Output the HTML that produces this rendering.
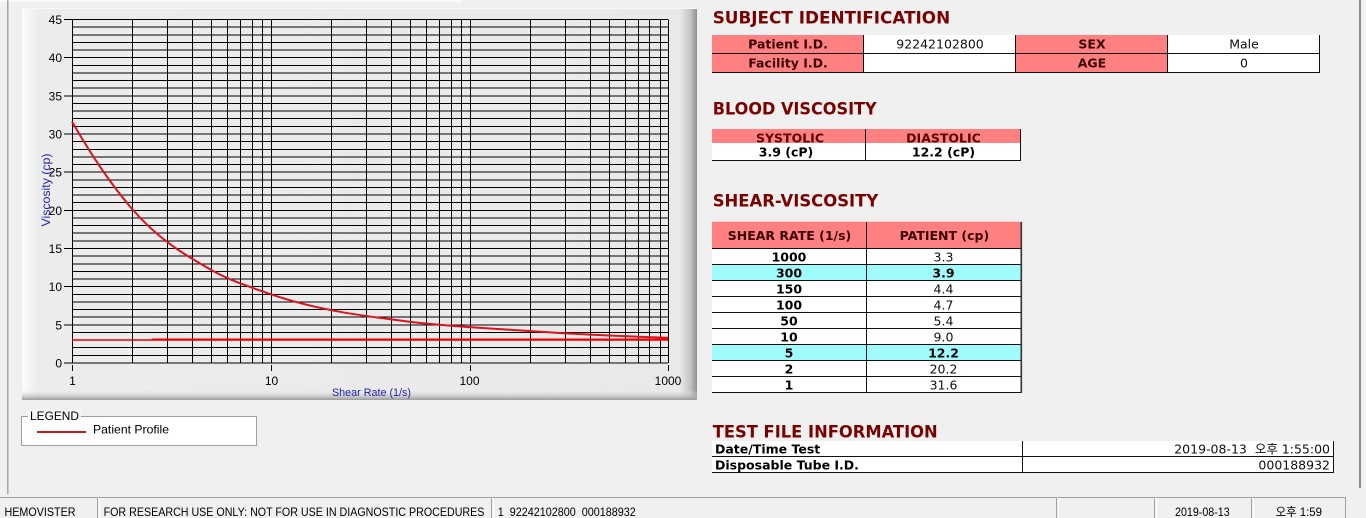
<!DOCTYPE html>
<html><head><meta charset="utf-8"><style>
html,body{margin:0;padding:0;background:#f0f0f0;}
svg{display:block;}
.ax{font-family:"Liberation Sans",sans-serif;font-size:12px;fill:#000;}
.bl{font-family:"Liberation Sans",sans-serif;fill:#1f1fb0;}
.hd{font-family:"DejaVu Sans","Liberation Sans",sans-serif;font-weight:bold;font-size:17px;fill:#7b0000;}
.tb{font-family:"DejaVu Sans","Liberation Sans",sans-serif;font-weight:bold;font-size:12.5px;}
.tn{font-family:"DejaVu Sans","Liberation Sans","Noto Sans CJK KR",sans-serif;font-size:12.5px;fill:#111;}
.st{font-family:"Liberation Sans","Noto Sans CJK KR",sans-serif;font-size:12px;fill:#000;}
</style></head><body>
<svg width="1366" height="518" viewBox="0 0 1366 518" xmlns="http://www.w3.org/2000/svg">
<defs>
<linearGradient id="pg" x1="0" y1="0" x2="1" y2="0">
<stop offset="0" stop-color="#fcfcfc"/>
<stop offset="0.025" stop-color="#ececec"/>
<stop offset="0.975" stop-color="#e9e9e9"/>
<stop offset="0.99" stop-color="#c4c4c4"/>
<stop offset="1" stop-color="#8f8f8f"/>
</linearGradient>
<linearGradient id="pb" x1="0" y1="0" x2="0" y2="1">
<stop offset="0" stop-color="#e9e9e9" stop-opacity="0"/>
<stop offset="1" stop-color="#9a9a9a" stop-opacity="1"/>
</linearGradient>
</defs>
<rect width="1366" height="518" fill="#f0f0f0"/>
<rect x="0" y="0" width="462" height="2" fill="#fbfbfb"/>
<!-- window edges -->
<rect x="7" y="0" width="1.5" height="494" fill="#a5a5a5"/>
<rect x="1359" y="0" width="2" height="488" fill="#8a8a8a"/>

<!-- chart panel -->
<rect x="22" y="8" width="675" height="392" fill="url(#pg)"/>
<rect x="22" y="390" width="675" height="10" fill="url(#pb)"/>
<rect x="22" y="8" width="675" height="1" fill="#f8f8f8"/>

<!-- grid -->
<g stroke="#000" stroke-width="1" shape-rendering="crispEdges" fill="none">
<path d="M72 363H668M72 355.37H668M72 347.73H668M72 340.1H668M72 332.47H668M72 324.84H668M72 317.2H668M72 309.57H668M72 301.94H668M72 294.3H668M72 286.67H668M72 279.04H668M72 271.4H668M72 263.77H668M72 256.14H668M72 248.51H668M72 240.87H668M72 233.24H668M72 225.61H668M72 217.97H668M72 210.34H668M72 202.71H668M72 195.07H668M72 187.44H668M72 179.81H668M72 172.18H668M72 164.54H668M72 156.91H668M72 149.28H668M72 141.64H668M72 134.01H668M72 126.38H668M72 118.74H668M72 111.11H668M72 103.48H668M72 95.85H668M72 88.21H668M72 80.58H668M72 72.95H668M72 65.31H668M72 57.68H668M72 50.05H668M72 42.41H668M72 34.78H668M72 27.15H668M72 19.52H668"/>
<path d="M72.5 19.5V363M132.5 19.5V363M167.5 19.5V363M192.5 19.5V363M211.5 19.5V363M227.5 19.5V363M240.5 19.5V363M252.5 19.5V363M262.5 19.5V363M271.5 19.5V363M331.5 19.5V363M366.5 19.5V363M391.5 19.5V363M410.5 19.5V363M426.5 19.5V363M439.5 19.5V363M451.5 19.5V363M461.5 19.5V363M470.5 19.5V363M530.5 19.5V363M565.5 19.5V363M590.5 19.5V363M609.5 19.5V363M625.5 19.5V363M638.5 19.5V363M649.5 19.5V363M660.5 19.5V363M668.5 19.5V363"/>
<!-- y ticks -->
<path d="M64 19.52H72M64 57.68H72M64 95.85H72M64 134.01H72M64 172.18H72M64 210.34H72M64 248.51H72M64 286.67H72M64 324.84H72M64 363H72"/>
<!-- x ticks -->
<path d="M72.5 365V371M271.5 365V371M470.5 365V371M668.5 365V371"/>
</g>

<!-- y labels -->
<g class="ax" text-anchor="end">
<text x="62" y="24">45</text>
<text x="62" y="62.2">40</text>
<text x="62" y="100.3">35</text>
<text x="62" y="138.5">30</text>
<text x="62" y="176.7">25</text>
<text x="62" y="214.8">20</text>
<text x="62" y="253">15</text>
<text x="62" y="291.2">10</text>
<text x="62" y="329.3">5</text>
<text x="62" y="367.5">0</text>
</g>
<g class="ax" text-anchor="middle">
<text x="72.5" y="385">1</text>
<text x="271.5" y="385">10</text>
<text x="469.5" y="385">100</text>
<text x="668" y="385">1000</text>
</g>
<text class="bl" x="332" y="396" font-size="11" textLength="79" lengthAdjust="spacingAndGlyphs">Shear Rate (1/s)</text>
<text class="bl" font-size="12" transform="translate(50,190) rotate(-90)" text-anchor="middle" textLength="73" lengthAdjust="spacingAndGlyphs">Viscosity (cp)</text>

<!-- series -->
<path d="M72 340H152" stroke="#e80000" stroke-width="1.6" fill="none"/>
<path d="M152 339.6H668" stroke="#f00000" stroke-width="2.2" fill="none"/>
<path d="M72,121.45 C91.93,156.37 111.87,185.43 131.8,208.6 C158.17,239.25 184.53,254.78 210.9,269.7 C230.83,280.98 250.77,287.3 270.7,294.2 C316.97,310.21 363.23,316.02 409.5,321.7 C429.43,324.15 449.37,325.61 469.3,327.1 C480.97,327.97 492.63,328.64 504.3,329.4 C524.23,330.69 544.17,332.07 564.1,333.2 C598.73,335.16 633.37,336.69 668,337.8" stroke="#d8141e" stroke-width="2" fill="none"/>

<!-- legend -->
<rect x="21.5" y="416.5" width="235" height="29" fill="#fff" stroke="#a0a0a0" stroke-width="1"/>
<rect x="28" y="410" width="53" height="8" fill="#f6f6f6"/>
<text class="ax" x="30" y="420" font-size="12.5" textLength="49" lengthAdjust="spacingAndGlyphs">LEGEND</text>
<rect x="37" y="431" width="49" height="2" fill="#d01a1a"/>
<text class="ax" x="93" y="433.5" textLength="76" lengthAdjust="spacingAndGlyphs">Patient Profile</text>

<!-- SUBJECT IDENTIFICATION -->
<text class="hd" x="712.7" y="23.3" textLength="237.5" lengthAdjust="spacingAndGlyphs">SUBJECT IDENTIFICATION</text>
<rect x="712" y="35" width="151.5" height="37.5" fill="#ff8080"/>
<rect x="863.5" y="35" width="152" height="37.5" fill="#fff"/>
<rect x="1015.5" y="35" width="152" height="37.5" fill="#ff8080"/>
<rect x="1167.5" y="35" width="152" height="37.5" fill="#fff"/>
<g stroke="#111" stroke-width="1" shape-rendering="crispEdges">
<path d="M712 53.5H1320M712 72.5H1320M863.5 35V73M1015.5 35V73M1167.5 35V73M1319.5 35V73"/>
</g>
<g class="tb" text-anchor="middle" fill="#3a0000">
<text x="788" y="48.3">Patient I.D.</text>
<text x="788" y="67.7">Facility I.D.</text>
<text x="1092" y="48.3">SEX</text>
<text x="1092" y="67.7">AGE</text>
</g>
<g class="tn" text-anchor="middle">
<text x="940" y="48.3">92242102800</text>
<text x="1244" y="48.3">Male</text>
<text x="1244" y="67.7">0</text>
</g>

<!-- BLOOD VISCOSITY -->
<text class="hd" x="712.7" y="114.3" textLength="164" lengthAdjust="spacingAndGlyphs">BLOOD VISCOSITY</text>
<rect x="712" y="129" width="309" height="14" fill="#ff8080"/>
<g class="tb" text-anchor="middle" fill="#5a0000">
<text x="790" y="142.3">SYSTOLIC</text>
<text x="943.5" y="142.3">DIASTOLIC</text>
</g>
<rect x="712" y="143" width="309" height="17" fill="#fff"/>
<g stroke="#111" stroke-width="1" shape-rendering="crispEdges">
<path d="M712 160.5H1021M865.5 129V161M1020.5 129V161"/>
</g>
<g class="tb" text-anchor="middle" fill="#000">
<text x="786" y="156.5">3.9 (cP)</text>
<text x="943.5" y="156.5">12.2 (cP)</text>
</g>

<!-- SHEAR-VISCOSITY -->
<text class="hd" x="712.7" y="206.7" textLength="165.6" lengthAdjust="spacingAndGlyphs">SHEAR-VISCOSITY</text>
<rect x="712" y="221.7" width="309.5" height="26.6" fill="#ff8080"/>
<rect x="712" y="248.3" width="309.5" height="144" fill="#fff"/>
<rect x="712" y="264.3" width="309.5" height="16" fill="#a0fcfc"/>
<rect x="712" y="344.3" width="309.5" height="16" fill="#a0fcfc"/>
<g stroke="#111" stroke-width="1" shape-rendering="crispEdges">
<path d="M712 248.5H1021M712 264.5H1021M712 280.5H1021M712 296.5H1021M712 312.5H1021M712 328.5H1021M712 344.5H1021M712 360.5H1021M712 376.5H1021M712 392.5H1021M866.5 222V393"/>
</g>
<rect x="1020.5" y="222" width="1.6" height="171" fill="#333"/>
<g class="tb" text-anchor="middle" fill="#3a0000">
<text x="789.5" y="240">SHEAR RATE (1/s)</text>
<text x="944.4" y="240">PATIENT (cp)</text>
</g>
<g class="tb" text-anchor="middle" fill="#000">
<text x="789" y="261.7">1000</text>
<text x="789" y="277.7">300</text>
<text x="789" y="293.7">150</text>
<text x="789" y="309.7">100</text>
<text x="789" y="325.7">50</text>
<text x="789" y="341.7">10</text>
<text x="789" y="357.7">5</text>
<text x="789" y="373.7">2</text>
<text x="789" y="389.7">1</text>
<text x="943.5" y="277.7">3.9</text>
<text x="943.5" y="357.7">12.2</text>
</g>
<g class="tn" text-anchor="middle">
<text x="943.5" y="261.7">3.3</text>
<text x="943.5" y="293.7">4.4</text>
<text x="943.5" y="309.7">4.7</text>
<text x="943.5" y="325.7">5.4</text>
<text x="943.5" y="341.7">9.0</text>
<text x="943.5" y="373.7">20.2</text>
<text x="943.5" y="389.7">31.6</text>
</g>

<!-- TEST FILE INFORMATION -->
<text class="hd" x="712.7" y="437.5" textLength="225" lengthAdjust="spacingAndGlyphs">TEST FILE INFORMATION</text>
<rect x="712" y="441" width="622" height="31.5" fill="#fff"/>
<g stroke="#111" stroke-width="1" shape-rendering="crispEdges">
<path d="M712 456.5H1334M712 472.5H1334M1022.5 441V473M1333.5 441V473"/>
</g>
<g class="tb" fill="#000">
<text x="715" y="453.5">Date/Time Test</text>
<text x="715" y="469.5">Disposable Tube I.D.</text>
</g>
<g class="tn" text-anchor="end">
<text x="1330" y="453.5" xml:space="preserve">2019-08-13  오후 1:55:00</text>
<text x="1330" y="469.5">000188932</text>
</g>

<!-- status bar -->
<g shape-rendering="crispEdges">
<rect x="0" y="497" width="97" height="1" fill="#a0a0a0"/>
<rect x="99" y="497" width="392" height="1" fill="#a0a0a0"/>
<rect x="493" y="497" width="563" height="1" fill="#a0a0a0"/>
<rect x="1058" y="497" width="96" height="1" fill="#a0a0a0"/>
<rect x="1156" y="497" width="95" height="1" fill="#a0a0a0"/>
<rect x="1253" y="497" width="92" height="1" fill="#a0a0a0"/>
<rect x="97" y="497" width="1" height="21" fill="#a0a0a0"/>
<rect x="99" y="498" width="1" height="20" fill="#ffffff"/>
<rect x="491" y="497" width="1" height="21" fill="#a0a0a0"/>
<rect x="493" y="498" width="1" height="20" fill="#ffffff"/>
<rect x="1056" y="497" width="1" height="21" fill="#a0a0a0"/>
<rect x="1058" y="498" width="1" height="20" fill="#ffffff"/>
<rect x="1154" y="497" width="1" height="21" fill="#a0a0a0"/>
<rect x="1156" y="498" width="1" height="20" fill="#ffffff"/>
<rect x="1251" y="497" width="1" height="21" fill="#a0a0a0"/>
<rect x="1253" y="498" width="1" height="20" fill="#ffffff"/>
<rect x="1345" y="497" width="1" height="21" fill="#a0a0a0"/>
</g>
<g class="st">
<text x="4.5" y="516" textLength="71" lengthAdjust="spacingAndGlyphs">HEMOVISTER</text>
<text x="103.6" y="516" textLength="380.8" lengthAdjust="spacingAndGlyphs">FOR RESEARCH USE ONLY: NOT FOR USE IN DIAGNOSTIC PROCEDURES</text>
<text x="497.8" y="516" textLength="138" lengthAdjust="spacingAndGlyphs" xml:space="preserve">1  92242102800  000188932</text>
<text x="1175" y="516" textLength="54.7" lengthAdjust="spacingAndGlyphs">2019-08-13</text>
<text x="1275.6" y="516" textLength="46.4" lengthAdjust="spacingAndGlyphs">오후 1:59</text>
</g>
</svg>
</body></html>
